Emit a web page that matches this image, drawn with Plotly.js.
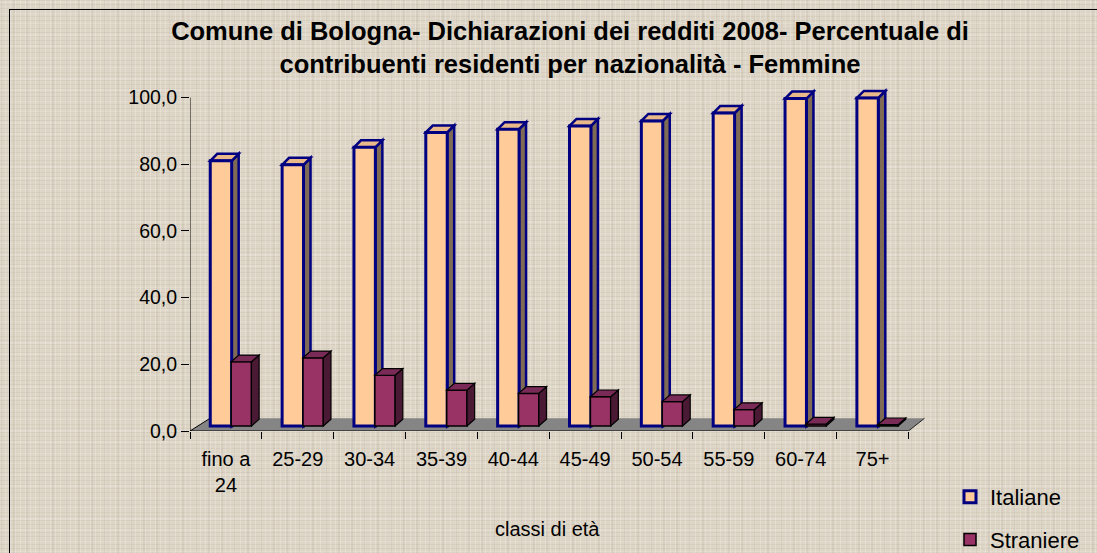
<!DOCTYPE html>
<html>
<head>
<meta charset="utf-8">
<script src="https://cdn.plot.ly/plotly-3.0.1.min.js"></script>
<style>
  html, body { margin: 0; padding: 0; }
  body {
    width: 1097px; height: 553px; overflow: hidden; position: relative;
    background-color: #ddd5c6;
    background-image:
      repeating-linear-gradient(90deg, rgba(255,255,255,0.22) 0px, rgba(255,255,255,0.22) 1px, transparent 1px, transparent 5px),
      repeating-linear-gradient(0deg, rgba(150,130,110,0.10) 0px, rgba(150,130,110,0.10) 1px, transparent 1px, transparent 4px),
      repeating-linear-gradient(90deg, rgba(130,110,95,0.08) 0px, rgba(130,110,95,0.08) 2px, transparent 2px, transparent 13px),
      repeating-linear-gradient(0deg, rgba(255,255,255,0.14) 0px, rgba(255,255,255,0.14) 2px, transparent 2px, transparent 11px);
  }
  #chart { position: absolute; left: 0; top: 0; width: 1097px; height: 553px; }
  #frame { position: absolute; left: 9px; top: 9px; width: 1200px; height: 700px;
           border-left: 1px solid #000; border-top: 1px solid #000; pointer-events: none; }
</style>
</head>
<body>
<div id="chart"></div>
<div id="frame"></div>
<script>
// ---- data ----
const categories = ['fino a 24', '25-29', '30-34', '35-39', '40-44', '45-49', '50-54', '55-59', '60-74', '75+'];
const italiane  = [80.5, 79.3, 84.6, 89.1, 90.1, 91.1, 92.6, 95.0, 99.4, 99.6];
const straniere = [19.5, 20.7, 15.4, 10.9,  9.9,  8.9,  7.4,  5.0,  0.6,  0.4];
const seriesNames = ['Italiane', 'Straniere'];
const yTickVals = [0, 20, 40, 60, 80, 100];
const titleText = 'Comune di Bologna- Dichiarazioni dei redditi 2008- Percentuale di<br>contribuenti residenti per nazionalità - Femmine';
const xTitleText = 'classi di età';

// ---- geometry / style ----
const W = 1097, H = 553;
const plotL = 190, plotR = 925, plotT = 80, plotB = 431;
const plotH = plotB - plotT, plotW = plotR - plotL;
const xMin = -0.5, xMax = 9.73;
const pxPerY = 3.334;            // front (axis) scale
const pxPerY2 = 3.294;           // scale at bar depth
const barBasePx = 426;           // bar base at bar depth
const yRange = [0, plotH / pxPerY];
const y2Range = [-(plotB - barBasePx) / pxPerY2, (barBasePx - plotT) / pxPerY2];
const pxPerX = plotW / (xMax - xMin);

const FONT = 'Liberation Sans, Arial, sans-serif';
const idx = categories.map((c, i) => i);
const tickText = categories.map(c => c.replace('fino a ', 'fino a<br>'));

const itOff = -0.218, itW = 0.298;
const stOff = 0.073, stW = 0.282;
const itDx = 7 / pxPerX, itDy = 7 / pxPerY2;
const stDx = 7.7 / pxPerX, stDy = 6.7 / pxPerY2;

const traces = [
  {
    type: 'bar', name: seriesNames[0], x: idx, y: italiane,
    xaxis: 'x', yaxis: 'y2', offset: itOff, width: itW,
    marker: { color: '#FFCC99', line: { color: '#000080', width: 3 } },
    cliponaxis: false, hoverinfo: 'skip', legendgroup: 'a'
  },
  {
    type: 'bar', name: seriesNames[1], x: idx, y: straniere,
    xaxis: 'x', yaxis: 'y2', offset: stOff, width: stW,
    marker: { color: '#993366', line: { color: '#000000', width: 1.5 } },
    cliponaxis: false, hoverinfo: 'skip', legendgroup: 'b'
  },
  {
    type: 'scatter', mode: 'markers', x: [0], y: [0], xaxis: 'x2', yaxis: 'y',
    marker: { opacity: 0 }, showlegend: false, hoverinfo: 'skip'
  }
];

const shapes = [];
// floor
const fdxL = 20 / pxPerX, fdxR = 16 / pxPerX, fdy = 12.7 / pxPerY;
shapes.push({
  type: 'path', xref: 'x', yref: 'y', layer: 'below',
  path: `M${xMin},0 L9.5,0 L${9.5 + fdxR},${fdy} L${xMin + fdxL},${fdy} Z`,
  fillcolor: '#858585', line: { width: 0 }
});
shapes.push({ type: 'line', xref: 'x', yref: 'y', layer: 'below', x0: xMin, y0: 0, x1: xMin + fdxL, y1: fdy, line: { color: '#000', width: 1 } });
shapes.push({ type: 'line', xref: 'x', yref: 'y', layer: 'below', x0: 9.5, y0: 0, x1: 9.5 + fdxR, y1: fdy, line: { color: '#222', width: 1 } });

function addFaces(vals, off, w, dx, dy, sideCol, topCol, lineCol, lw, layer) {
  vals.forEach((v, i) => {
    const xl = i + off, xr = i + off + w;
    shapes.push({
      type: 'path', xref: 'x', yref: 'y2', layer: layer,
      path: `M${xr},0 L${xr + dx},${dy} L${xr + dx},${v + dy} L${xr},${v} Z`,
      fillcolor: sideCol, line: { color: lineCol, width: lw }
    });
    shapes.push({
      type: 'path', xref: 'x', yref: 'y2', layer: layer,
      path: `M${xl},${v} L${xl + dx},${v + dy} L${xr + dx},${v + dy} L${xr},${v} Z`,
      fillcolor: topCol, line: { color: lineCol, width: lw }
    });
  });
}
addFaces(italiane, itOff, itW, itDx, itDy, '#7f6a56', '#e9b98a', '#000080', 2.5, 'below');
addFaces(straniere, stOff, stW, stDx, stDy, '#4a1934', '#7a2a56', '#000000', 1.2, 'above');

// axis lines
shapes.push({ type: 'line', xref: 'x', yref: 'y', layer: 'above', x0: xMin, y0: 0, x1: 9.5, y1: 0, line: { color: '#000', width: 1 } });
shapes.push({ type: 'line', xref: 'x', yref: 'y', layer: 'above', x0: xMin, y0: 0, x1: xMin, y1: 100, line: { color: '#000', width: 1 } });

const boundaries = categories.map((c, i) => i - 0.5).concat([categories.length - 0.5]);

const layout = {
  width: W, height: H,
  margin: { l: plotL, r: W - plotR, t: plotT, b: H - plotB, pad: 0 },
  paper_bgcolor: 'rgba(0,0,0,0)', plot_bgcolor: 'rgba(0,0,0,0)',
  separators: ',.',
  font: { family: FONT, color: '#000', size: 20 },
  title: {
    text: titleText,
    font: { family: FONT, size: 25.5, weight: 'bold', color: '#000' },
    x: 570 / W, xanchor: 'center', xref: 'container',
    y: 1 - 40 / H, yanchor: 'top', yref: 'container'
  },
  showlegend: true,
  legend: {
    x: 950 / W, xanchor: 'left', xref: 'container',
    y: 1 - 476 / H, yanchor: 'top', yref: 'container',
    font: { family: FONT, size: 22, color: '#000' },
    bgcolor: 'rgba(0,0,0,0)', borderwidth: 0,
    traceorder: 'grouped', tracegroupgap: 11
  },
  xaxis: {
    range: [xMin, xMax], tickmode: 'array', tickvals: idx, ticktext: tickText,
    ticks: '', showline: false, showgrid: false, zeroline: false,
    tickfont: { family: FONT, size: 20, color: '#000' },
    ticklabelstandoff: 14, fixedrange: true
  },
  xaxis2: {
    overlaying: 'x', anchor: 'y', side: 'bottom', range: [xMin, xMax],
    tickmode: 'array', tickvals: boundaries, showticklabels: false,
    ticks: 'outside', ticklen: 7, tickcolor: '#000', tickwidth: 1,
    showline: false, showgrid: false, zeroline: false, fixedrange: true
  },
  yaxis: {
    range: yRange, tickmode: 'array', tickvals: yTickVals, tickformat: '.1f',
    ticks: 'outside', ticklen: 8, tickcolor: '#000', tickwidth: 1,
    showline: false, showgrid: false, zeroline: false,
    tickfont: { family: FONT, size: 19.5, color: '#000' }, fixedrange: true
  },
  yaxis2: {
    overlaying: 'y', anchor: 'x', range: y2Range,
    showticklabels: false, ticks: '', showline: false, showgrid: false, zeroline: false, fixedrange: true
  },
  shapes: shapes,
  annotations: [{
    text: xTitleText, xref: 'paper', yref: 'paper',
    x: (547.5 - plotL) / plotW, y: (plotB - 529) / plotH,
    xanchor: 'center', yanchor: 'middle', showarrow: false,
    font: { family: FONT, size: 20, color: '#000' }
  }]
};

Plotly.newPlot('chart', traces, layout, { displayModeBar: false, staticPlot: true });
</script>
</body>
</html>
